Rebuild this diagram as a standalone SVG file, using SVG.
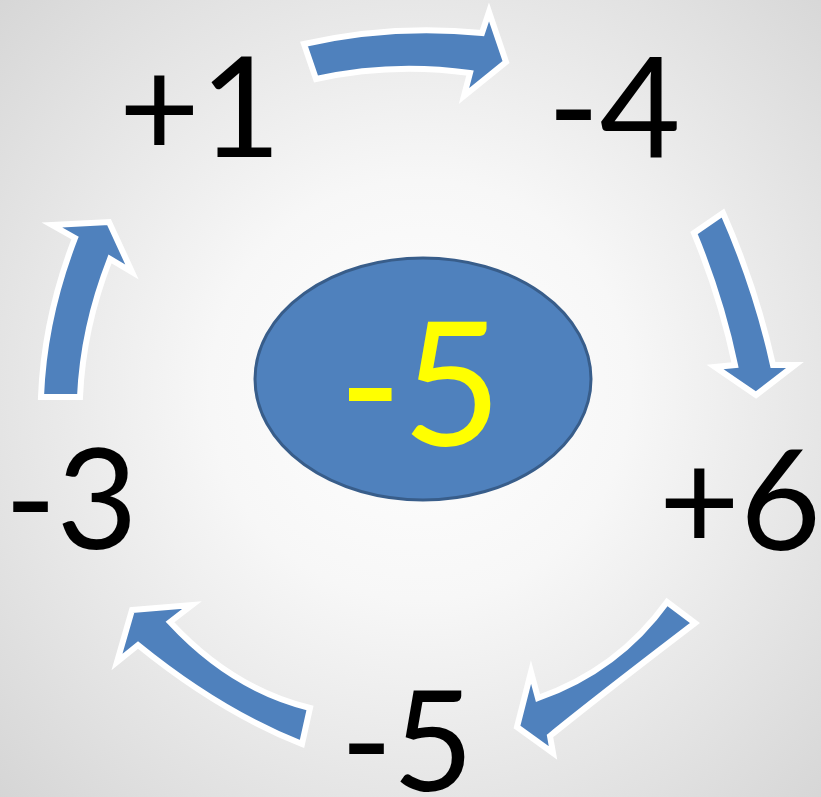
<svg xmlns="http://www.w3.org/2000/svg" width="821" height="797" viewBox="0 0 821 797">
<defs>
<radialGradient id="bg" cx="420" cy="390" r="600" gradientUnits="userSpaceOnUse">
<stop offset="0" stop-color="#ffffff"/>
<stop offset="0.35" stop-color="#f7f7f7"/>
<stop offset="1" stop-color="#d4d4d4"/>
</radialGradient>
<style>
.arr{fill:#4F81BD;stroke:#ffffff;stroke-width:6;stroke-linejoin:miter}
.lbl{font-family:Lato,"Open Sans","Liberation Sans",sans-serif;font-size:140px;fill:#000000;text-anchor:middle}
</style>
</defs>
<rect x="0" y="0" width="821" height="797" fill="url(#bg)"/>
<g id="connectors">
<path class="arr" d="M 304 44 Q 392 24 482 33 L 489 12 L 506 62 L 464 96 L 470 73 Q 392 62 316 79 Z"/>
<path class="arr" d="M 694 233 L 723 213 Q 756 288 773 365 L 795 365 L 756 395 L 715 367 L 735 365 Q 721 298 694 233 Z"/>
<path class="arr" d="M 667 602 L 695 623 Q 598 697 550 736 L 553 753 L 517 727 L 531 672 L 538 698 Q 618 670 667 602 Z"/>
<path class="arr" d="M 132 610 L 192 605 L 170 622 Q 232 689 310 708 L 302 744 Q 219 711 138 645 L 117 662 Z"/>
<path class="arr" d="M 41 397 Q 44 318 75 238 L 52 225 L 109 222 L 132 272 L 110 259 Q 83 328 80 397 Z"/>
</g>
<g id="center">
<ellipse cx="423" cy="379" rx="168" ry="121" fill="#4F81BD" stroke="#385D8A" stroke-width="3"/>
<text x="420" y="446" class="lbl" style="font-size:172px;fill:#FFFF00">-5</text>
</g>
<g id="n1"><text x="200" y="157" class="lbl">+1</text></g>
<g id="n2"><text x="614" y="157" class="lbl">-4</text></g>
<g id="n3"><text x="740" y="550" class="lbl">+6</text></g>
<g id="n4"><text x="407" y="791" class="lbl">-5</text></g>
<g id="n5"><text x="71" y="549" class="lbl">-3</text></g>
</svg>
